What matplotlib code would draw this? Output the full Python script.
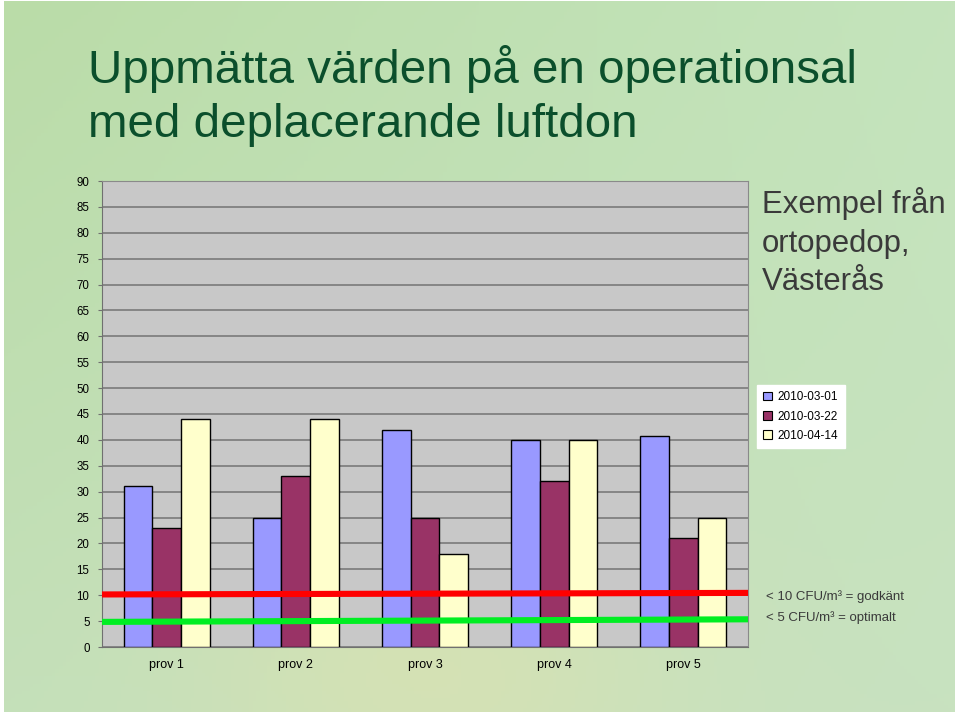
import numpy as np
import matplotlib
matplotlib.use('Agg')
import matplotlib.pyplot as plt
from matplotlib.patches import Patch

plt.rcParams['font.family'] = ['Liberation Sans', 'DejaVu Sans']

# data
categories = ['prov 1', 'prov 2', 'prov 3', 'prov 4', 'prov 5']
series_names = ['2010-03-01', '2010-03-22', '2010-04-14']
values_0301 = [31, 25, 42, 40, 40.8]
values_0322 = [23, 33, 25, 32, 21]
values_0414 = [44, 44, 18, 40, 25]
limit_godkant = [10.15, 10.45]   # red line, left -> right
limit_optimalt = [4.85, 5.35]    # green line, left -> right
yticks = list(range(0, 95, 5))

colors = ['#9999ff', '#993366', '#ffffcc']

W, H = 960, 716
fig = plt.figure(figsize=(W / 100, H / 100), dpi=100)
fig.patch.set_facecolor('white')

# textured-paper look approximated by a soft gradient
bg = fig.add_axes([0.004, 0.006, 0.99, 0.992], zorder=-10)
gy, gx = np.mgrid[0:1:200j, 0:1:260j]
tl = np.array([186, 220, 168]) / 255
tr = np.array([196, 228, 188]) / 255
bl = np.array([196, 224, 186]) / 255
br = np.array([200, 226, 192]) / 255
img = (tl * ((1 - gx) * (1 - gy))[..., None] + tr * (gx * (1 - gy))[..., None]
       + bl * ((1 - gx) * gy)[..., None] + br * (gx * gy)[..., None])
yellow = np.array([222, 226, 176]) / 255
blob = np.exp(-(((gx - 0.45) / 0.25) ** 2 + ((gy - 0.95) / 0.25) ** 2))[..., None]
img = img * (1 - 0.6 * blob) + yellow * 0.6 * blob
bg.imshow(img, aspect='auto', extent=[0, 1, 0, 1])
bg.axis('off')

# chart
ax = fig.add_axes([102 / W, 69 / H, 646 / W, 466 / H])
ax.set_facecolor('#c8c8c8')
x = np.arange(len(categories))
w = 0.222
for i, (vals, name) in enumerate(zip([values_0301, values_0322, values_0414], series_names)):
    ax.bar(x + (i - 1) * w, vals, width=w, color=colors[i], edgecolor='black',
           linewidth=1.0, label=name, zorder=3)

ax.plot([-0.5, 4.5], limit_godkant, color='#ff0000', lw=4.4, solid_capstyle='butt',
        zorder=4, clip_on=False)
ax.plot([-0.5, 4.5], limit_optimalt, color='#00ee22', lw=4.4, solid_capstyle='butt',
        zorder=4, clip_on=False)

ax.set_xlim(-0.5, 4.5)
ax.set_ylim(0, 90)
ax.set_yticks(yticks)
ax.set_yticklabels([str(t) for t in yticks], fontsize=8.3)
ax.yaxis.grid(True, color='#7a7a7a', linewidth=1.2, zorder=0)
ax.set_axisbelow(True)
ax.tick_params(axis='y', length=3, width=0.8, color='#707070', pad=6)
ax.set_xticks(x)
ax.set_xticklabels(categories, fontsize=9)
ax.tick_params(axis='x', length=0, pad=8.5)
for side in ['top', 'right']:
    ax.spines[side].set_color('#8a8a8a')
for side in ['left', 'bottom']:
    ax.spines[side].set_color('#707070')

# legend
handles = [Patch(facecolor=c, edgecolor='black', linewidth=0.8) for c in colors]
leg = fig.legend(handles, series_names, loc='upper left',
                 bbox_to_anchor=(757 / W, 1 - 385 / H), borderaxespad=0,
                 fontsize=8.5, handlelength=0.7, handleheight=0.7,
                 handletextpad=0.5, labelspacing=0.6, borderpad=0.55,
                 fancybox=False, frameon=True, framealpha=1.0)
leg.get_frame().set_facecolor('white')
leg.get_frame().set_edgecolor('white')

# titles and notes
title_color = '#0b4f2c'
fig.text(88 / W, 1 - 83 / H, 'Uppmätta värden på en operationsal', fontsize=34.2,
         color=title_color, va='baseline', ha='left')
fig.text(88 / W, 1 - 137 / H, 'med deplacerande luftdon', fontsize=34.2,
         color=title_color, va='baseline', ha='left')

note_color = '#3a3a3a'
for line, base in zip(['Exempel från', 'ortopedop,', 'Västerås'], [213, 252, 290]):
    fig.text(762 / W, 1 - base / H, line, fontsize=22.4, color=note_color,
             va='baseline', ha='left')

fig.text(766 / W, 1 - 597 / H, '< 10 CFU/m³ = godkänt', fontsize=9.5,
         color=note_color, va='center', ha='left')
fig.text(766 / W, 1 - 618 / H, '< 5 CFU/m³ = optimalt', fontsize=9.5,
         color=note_color, va='center', ha='left')

fig.savefig('out.png', dpi=100, facecolor=fig.get_facecolor())
